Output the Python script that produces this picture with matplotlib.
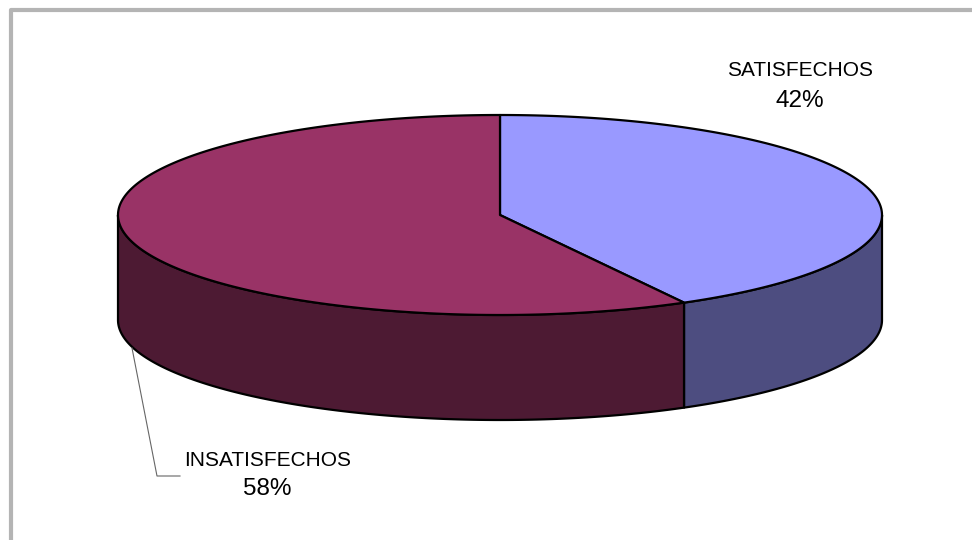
import numpy as np
import matplotlib
matplotlib.use("Agg")
import matplotlib.pyplot as plt
from matplotlib.patches import Polygon

plt.rcParams['font.family'] = ['Liberation Sans', 'DejaVu Sans']

# ---- data ----
categories = ["SATISFECHOS", "INSATISFECHOS"]
values = [42, 58]
top_colors = ["#9999FF", "#993366"]
side_colors = ["#4D4D80", "#4D1A33"]

# ---- layout (pixels) ----
W, H = 972, 540
cx, cy = 500, 215
rx, ry = 382, 100
depth = 105

fig = plt.figure(figsize=(W / 100, H / 100), dpi=100)
ax = fig.add_axes([0, 0, 1, 1])
ax.set_xlim(0, W)
ax.set_ylim(H, 0)
ax.axis('off')

def pt(t, dz=0.0):
    return cx + rx * np.cos(t), cy - ry * np.sin(t) + dz

total = float(sum(values))
angles = []
start = np.pi / 2
for v in values:
    end = start - 2 * np.pi * v / total
    angles.append((start, end))
    start = end

# side walls (front half: angles between -pi and 0)
for (a0, a1), sc in zip(angles, side_colors):
    lo, hi = min(a0, a1), max(a0, a1)
    # intersect [lo, hi] with front range, allow wrap by shifting
    for shift in (0, -2 * np.pi, 2 * np.pi):
        l, h = lo + shift, hi + shift
        s, e = max(l, -np.pi), min(h, 0.0)
        if e > s:
            ts = np.linspace(e, s, 200)
            xs, ys = pt(ts)
            xb, yb = pt(ts[::-1], depth)
            poly = np.column_stack([np.concatenate([xs, xb]), np.concatenate([ys, yb])])
            ax.add_patch(Polygon(poly, closed=True, facecolor=sc, edgecolor='black',
                                 linewidth=1.6, joinstyle='round', zorder=2))

# top faces
for (a0, a1), tc in zip(angles, top_colors):
    ts = np.linspace(a0, a1, 400)
    xs, ys = pt(ts)
    poly = np.column_stack([np.concatenate([[cx], xs]), np.concatenate([[cy], ys])])
    ax.add_patch(Polygon(poly, closed=True, facecolor=tc, edgecolor='black',
                         linewidth=1.6, joinstyle='round', zorder=3))

# labels
name_fs = 15
pct_fs = 17.5
ax.text(800, 71, categories[0], ha='center', va='center', fontsize=name_fs, color='black', zorder=5)
ax.text(800, 101, f"{values[0]}%", ha='center', va='center', fontsize=pct_fs, color='black', zorder=5)
ax.text(268, 460, categories[1], ha='center', va='center', fontsize=name_fs, color='black', zorder=5)
ax.text(267, 489, f"{values[1]}%", ha='center', va='center', fontsize=pct_fs, color='black', zorder=5)

# leader line
ax.plot([132, 157, 180], [348, 476, 476], color='#666666', linewidth=0.8, zorder=4)

# outer frame
ax.plot([11, 11, W + 5], [H + 5, 10, 10], color='#b4b4b4', linewidth=3, solid_capstyle='butt', zorder=1)

fig.savefig("out.png", dpi=100, facecolor='white')
